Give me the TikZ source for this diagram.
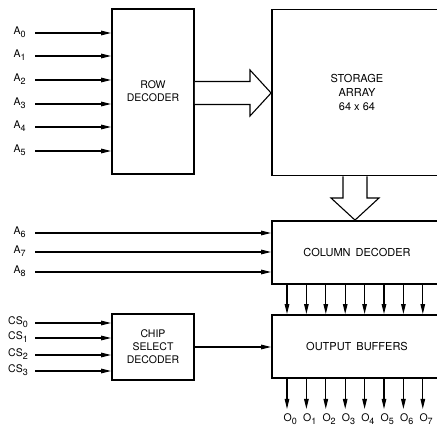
\documentclass[tikz,border=0pt]{standalone}
\usepackage{fontspec}
\setmainfont{TeX Gyre Heros}
\usetikzlibrary{arrows.meta}
\newcommand{\subl}[2]{#1\raisebox{-2.7pt}{\fontsize{9}{9}\selectfont #2}}
\begin{document}
\begin{tikzpicture}[x=1pt,y=-1pt,
  blk/.style={draw, line width=1.8pt, inner sep=0pt, align=center},
  wire/.style={line width=1.1pt},
  arr/.style={wire, -{Triangle[length=10pt,width=4.5pt]}},
  lbl/.style={anchor=base west, inner sep=0pt, font=\fontsize{10.5}{12}\selectfont}]
\clip (0,0) rectangle (437,427);
% blocks
\node[blk, minimum width=82pt, minimum height=165pt, font=\fontsize{10.5}{13}\selectfont] (row) at (153,91.5) {ROW\\DECODER};
\node[blk, minimum width=170pt, minimum height=166pt, font=\fontsize{11}{13.8}\selectfont] (store) at (357,92.5) {STORAGE\\ARRAY\\64 x 64};
\node[blk, minimum width=170pt, minimum height=63pt, font=\fontsize{11}{12}\selectfont] (col) at (357,252.5) {COLUMN\hspace{2pt} DECODER};
\node[blk, minimum width=170pt, minimum height=63pt, font=\fontsize{11}{12}\selectfont] (out) at (357,346.5) {OUTPUT\hspace{2pt} BUFFERS};
\node[blk, minimum width=82pt, minimum height=66pt, font=\fontsize{10.5}{13}\selectfont] (chip) at (153,347) {CHIP\\SELECT\\DECODER};
% row address inputs
\foreach \i/\y in {0/33,1/56,2/80,3/104,4/127,5/151}{
  \coordinate (a\i) at (35,\y);
  \node[lbl] (la\i) at (13.5,\y+1.7) {\subl{A}{\i}};
  \draw[arr] (a\i) -- (a\i -| row.west);
}
% column address inputs
\foreach \i/\y in {6/233,7/252,8/272}{
  \coordinate (a\i) at (35,\y);
  \node[lbl] (la\i) at (13.5,\y+1.7) {\subl{A}{\i}};
  \draw[arr] (a\i) -- (a\i -| col.west);
}
% chip select inputs
\foreach \i/\y in {0/323,1/338,2/355,3/371}{
  \coordinate (cs\i) at (35,\y);
  \node[lbl] (lcs\i) at (8,\y+2) {\subl{CS}{\i}};
  \draw[arr] (cs\i) -- (cs\i -| chip.west);
}
% chip select to output buffers
\draw[arr] (chip.east) -- (chip.east -| out.west);
% hollow arrow row -> storage
\draw[wire, fill=white] (row.east |- 0,81.5) -- (250,81.5) -- (250,70) -- (store.west |- 0,93)
  -- (250,116) -- (250,104.5) -- (row.east |- 0,104.5);
% hollow arrow storage -> column
\draw[wire, fill=white] (store.south -| 343,0) -- (343,198) -- (331,198) -- (col.north -| 355,0)
  -- (379,198) -- (367,198) -- (store.south -| 367,0);
% column -> output, output pins
\foreach \i in {0,...,7}{
  \pgfmathsetmacro{\xx}{287+19.4*\i}
  \draw[arr] (col.south -| \xx,0) -- (out.north -| \xx,0);
  \coordinate (o\i) at (\xx,409);
  \draw[arr] (out.south -| \xx,0) -- (o\i);
  \node[lbl] (lo\i) at (\xx-3.5,421.5) {\subl{O}{\i}};
}
\end{tikzpicture}
\end{document}
